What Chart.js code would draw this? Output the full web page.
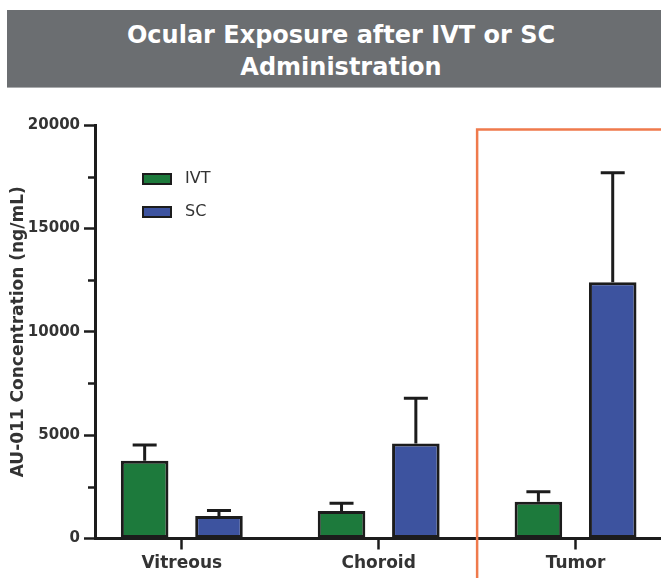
<!DOCTYPE html>
<html>
<head>
<meta charset="utf-8">
<script src="https://cdn.jsdelivr.net/npm/chart.js@4.4.1/dist/chart.umd.min.js"></script>
<style>
  html, body { margin: 0; padding: 0; background: #fff; }
  #wrap { position: relative; width: 661px; height: 578px; overflow: hidden; }
  #banner {
    position: absolute; left: 7px; top: 10px; width: 654px; height: 78px;
    box-sizing: border-box; padding-top: 8.5px; padding-left: 14px;
    background: #6b6e71; color: #fff; text-align: center;
    font: bold 24px "DejaVu Sans", sans-serif; line-height: 32px;
    border-bottom: 1px solid #a9abad;
  }
  canvas { position: absolute; left: 0; top: 0; }
</style>
</head>
<body>
<div id="wrap">
  <canvas id="chart" width="661" height="578"></canvas>
  <div id="banner">Ocular Exposure after IVT or SC<br>Administration</div>
</div>
<script>
// Tissues and mean concentrations (ng/mL) with the upper error (SD) per route
const tissues = ['Vitreous', 'Choroid', 'Tumor'];
const routes = ['IVT', 'SC'];
const ivtMean = [3760, 1330, 1780];
const ivtErr = [760, 370, 480];
const scMean = [1090, 4600, 12390];
const scErr = [260, 2180, 5300];
const yMajorTicks = [0, 5000, 10000, 15000, 20000];
const highlightedTissue = 'Tumor';

const INK = '#1c1c1c';
const TEXT = '#333333';
const colors = { IVT: '#1d7a3c', SC: '#3d539f' };
const errors = [ivtErr, scErr];

// Upward-only error bars with a cap, positioned from each bar element
const errorBars = {
  id: 'errorBars',
  afterDatasetsDraw(chart) {
    const { ctx } = chart;
    const y = chart.scales.y;
    ctx.save();
    ctx.strokeStyle = INK;
    ctx.lineWidth = 3;
    chart.data.datasets.forEach((ds, di) => {
      chart.getDatasetMeta(di).data.forEach((bar, i) => {
        const top = y.getPixelForValue(ds.data[i].y + errors[di][i]);
        ctx.beginPath();
        ctx.moveTo(bar.x, bar.y);
        ctx.lineTo(bar.x, top);
        ctx.moveTo(bar.x - 12, top);
        ctx.lineTo(bar.x + 12, top);
        ctx.stroke();
      });
    });
    ctx.restore();
  }
};

// Short unlabeled ticks between the labelled values on the y axis
const minorTicks = {
  id: 'minorTicks',
  afterDraw(chart) {
    const { ctx, chartArea } = chart;
    const y = chart.scales.y;
    ctx.save();
    ctx.strokeStyle = INK;
    ctx.lineWidth = 2.5;
    for (let k = 0; k < yMajorTicks.length - 1; k++) {
      const v = (yMajorTicks[k] + yMajorTicks[k + 1]) / 2;
      const py = Math.round(y.getPixelForValue(v)) + 0.5;
      ctx.beginPath();
      ctx.moveTo(chartArea.left - 7, py);
      ctx.lineTo(chartArea.left, py);
      ctx.stroke();
    }
    ctx.restore();
  }
};

// Legend drawn inside the plot area, one row per route
const insideLegend = {
  id: 'insideLegend',
  afterDraw(chart) {
    const { ctx, chartArea } = chart;
    ctx.save();
    ctx.font = '16px "DejaVu Sans", sans-serif';
    ctx.textBaseline = 'middle';
    chart.data.datasets.forEach((ds, i) => {
      const x0 = chartArea.left + 48;
      const cy = chartArea.top + 54 + i * 33;
      ctx.fillStyle = ds.backgroundColor;
      ctx.fillRect(x0, cy - 5, 28, 10);
      ctx.strokeStyle = INK;
      ctx.lineWidth = 2;
      ctx.strokeRect(x0, cy - 5, 28, 10);
      ctx.fillStyle = TEXT;
      ctx.fillText(ds.label, x0 + 42, cy);
    });
    ctx.restore();
  }
};

// Orange frame around the highlighted tissue group
const highlightFrame = {
  id: 'highlightFrame',
  afterDraw(chart) {
    const { ctx, chartArea } = chart;
    const x = chart.scales.x;
    const left = x.getPixelForValue(tissues.indexOf(highlightedTissue) - 0.5);
    const top = chartArea.top + 4.5;
    ctx.save();
    ctx.strokeStyle = '#ef7a4c';
    ctx.lineWidth = 2.5;
    ctx.beginPath();
    ctx.moveTo(chart.width + 10, top);
    ctx.lineTo(left, top);
    ctx.lineTo(left, chart.height + 10);
    ctx.stroke();
    ctx.restore();
  }
};

const toPoints = arr => arr.map((v, i) => ({ x: i, y: v }));

new Chart(document.getElementById('chart'), {
  type: 'bar',
  data: {
    datasets: [
      { label: routes[0], data: toPoints(ivtMean), backgroundColor: colors.IVT },
      { label: routes[1], data: toPoints(scMean), backgroundColor: colors.SC }
    ]
  },
  options: {
    responsive: false,
    animation: false,
    events: [],
    layout: { padding: { top: 125, right: 0, bottom: 0, left: 0 } },
    datasets: {
      bar: {
        borderColor: INK,
        borderWidth: 3,
        borderSkipped: false,
        categoryPercentage: 0.755,
        barPercentage: 0.64
      }
    },
    plugins: {
      legend: { display: false },
      tooltip: { enabled: false },
      title: { display: false }
    },
    scales: {
      x: {
        type: 'linear',
        offset: false,
        min: -0.441,
        max: 2.434,
        afterBuildTicks: s => { s.ticks = tissues.map((_, i) => ({ value: i })); },
        afterFit: s => { s.height = 39.5; },
        ticks: {
          autoSkip: false,
          maxRotation: 0,
          padding: 4,
          color: TEXT,
          font: { family: '"DejaVu Sans", sans-serif', size: 17, weight: 'bold' },
          callback: v => tissues[v] ?? ''
        },
        grid: { offset: false, drawOnChartArea: false, drawTicks: true, tickLength: 11, tickWidth: 2.5, tickColor: INK },
        border: { display: true, width: 3, color: INK }
      },
      y: {
        min: 0,
        max: 20000,
        afterFit: s => { s.width = 95; },
        ticks: {
          stepSize: 5000,
          padding: 4,
          color: TEXT,
          font: { family: '"DejaVu Sans", sans-serif', size: 15, weight: 'bold' },
          callback: v => (yMajorTicks.includes(v) ? String(v) : '')
        },
        grid: { drawOnChartArea: false, drawTicks: true, tickLength: 11, tickWidth: 2.5, tickColor: INK },
        border: { display: true, width: 3, color: INK },
        title: {
          display: true,
          text: 'AU-011 Concentration (ng/mL)',
          color: TEXT,
          padding: { top: 8, bottom: 0 },
          font: { family: '"DejaVu Sans", sans-serif', size: 17, weight: 'bold' }
        }
      }
    }
  },
  plugins: [errorBars, minorTicks, insideLegend, highlightFrame]
});
</script>
</body>
</html>
